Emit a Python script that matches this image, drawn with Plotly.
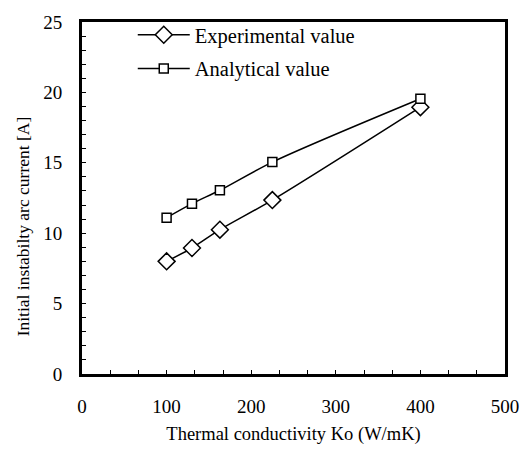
import plotly.graph_objects as go

conductivity = [100, 130, 163, 225, 400]
experimental = [8.0, 8.95, 10.25, 12.35, 18.95]
analytical = [11.1, 12.1, 13.05, 15.05, 19.55]

series_names = ["Experimental value", "Analytical value"]
x_ticks = [0, 100, 200, 300, 400, 500]
y_ticks = [0, 5, 10, 15, 20, 25]
y_title = "Initial instabilty arc current [A]"
x_title = "Thermal conductivity Ko (W/mK)"

FONT = "Liberation Serif, Times New Roman, serif"

fig = go.Figure()
fig.add_trace(go.Scatter(
    x=conductivity, y=experimental, name=series_names[0], mode="lines+markers",
    line=dict(color="black", width=1.5, shape="spline", smoothing=0.8),
    marker=dict(symbol="diamond", size=13, color="white", line=dict(color="black", width=1.5)),
    legendgroup="a",
))
fig.add_trace(go.Scatter(
    x=conductivity, y=analytical, name=series_names[1], mode="lines+markers",
    line=dict(color="black", width=1.5, shape="spline", smoothing=0.8),
    marker=dict(symbol="square", size=9, color="white", line=dict(color="black", width=1.5)),
    legendgroup="b",
))

axis_common = dict(
    showgrid=False, zeroline=False, showline=True, linecolor="black", linewidth=3,
    mirror=True, ticks="inside", ticklen=4, tickwidth=1, tickcolor="black",
    tickfont=dict(family=FONT, size=19, color="black"),
)

fig.update_xaxes(
    range=[0, 500], tickvals=x_ticks, ticklabelstandoff=13,
    minor=dict(dtick=100 / 3, ticks="inside", ticklen=4, tickcolor="black"),
    title=dict(text=x_title, font=dict(family=FONT, size=18.5, color="black"), standoff=12),
    **axis_common,
)
fig.update_yaxes(
    range=[0, 25], tickvals=y_ticks, ticklabelstandoff=13,
    minor=dict(dtick=1, ticks="inside", ticklen=4, tickcolor="black"),
    **axis_common,
)

fig.add_annotation(
    text=y_title, xref="paper", yref="paper", x=-0.139, y=0.42,
    xanchor="center", yanchor="middle", textangle=-90, showarrow=False,
    font=dict(family=FONT, size=17.5, color="black"),
)

fig.update_layout(
    width=531, height=454,
    margin=dict(l=82, r=16, t=15, b=75),
    paper_bgcolor="white", plot_bgcolor="white",
    showlegend=True,
    legend=dict(
        x=0.12, y=1.02, xanchor="left", yanchor="top",
        bgcolor="rgba(0,0,0,0)", font=dict(family=FONT, size=20.5, color="black"),
        traceorder="grouped", tracegroupgap=4, itemwidth=52,
    ),
)

fig.write_html("out.html")
